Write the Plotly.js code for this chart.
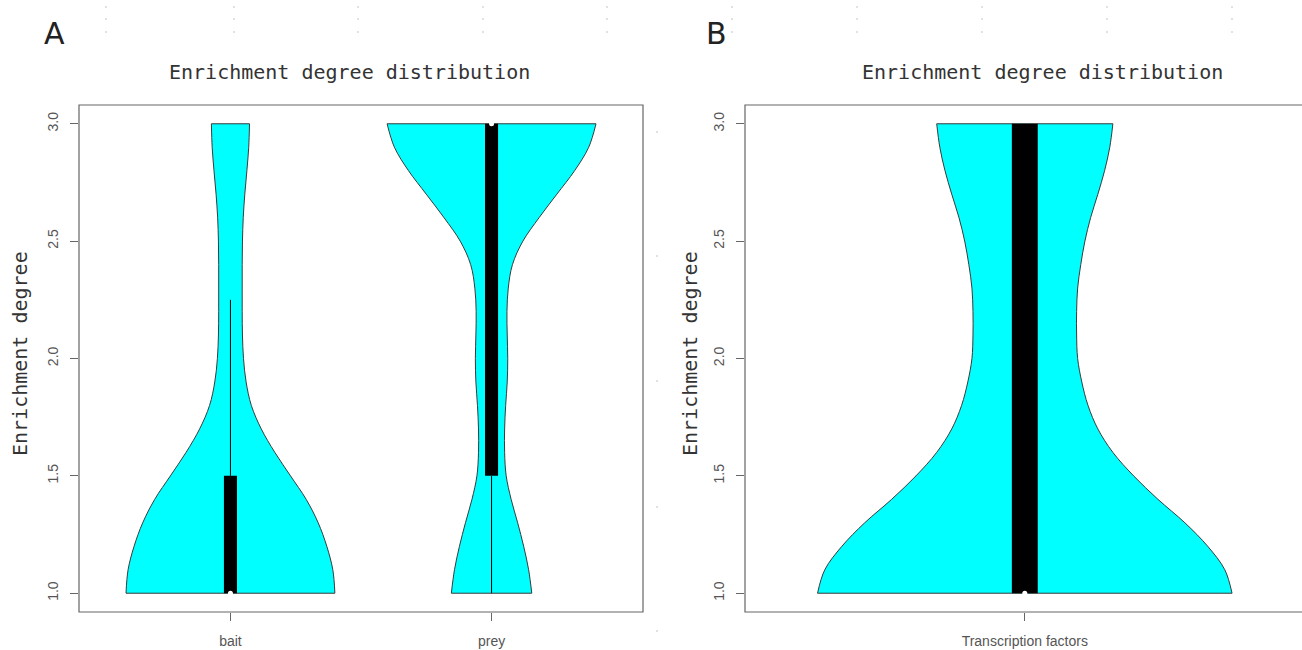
<!DOCTYPE html>
<html><head><meta charset="utf-8">
<script src="https://cdn.plot.ly/plotly-3.0.1.min.js"></script>
<style>html,body{margin:0;padding:0;background:#fff;}#chart{width:1302px;height:650px;}</style>
</head><body><div id="chart"></div>
<script>
// ---- data ----
const levels = [1.0,1.1,1.2,1.3,1.4,1.5,1.6,1.7,1.8,1.9,2.0,2.1,2.2,2.3,2.4,2.5,2.6,2.7,2.8,2.9,3.0];
const groupsA = ['bait','prey'];
const groupsB = ['Transcription factors'];
// violin half-widths (x units) at each level
const baitHalfWidth = [0.400,0.392,0.369,0.336,0.290,0.230,0.170,0.118,0.080,0.060,0.050,0.046,0.045,0.045,0.045,0.046,0.049,0.055,0.063,0.070,0.073];
const preyHalfWidth = [0.154,0.142,0.123,0.100,0.075,0.056,0.050,0.050,0.054,0.060,0.062,0.060,0.059,0.064,0.080,0.120,0.182,0.250,0.318,0.372,0.400];
const tfHalfWidth   = [0.400,0.386,0.353,0.309,0.257,0.210,0.170,0.141,0.122,0.110,0.102,0.100,0.100,0.102,0.108,0.116,0.127,0.141,0.154,0.164,0.170];
// box statistics
const q1A = [1.0, 1.5];
const medianA = [1.0, 3.0];
const q3A = [1.5, 3.0];
const whiskerLowA = [1.0, 1.0];
const whiskerHighA = [2.25, 3.0];
const q1B = [1.0];
const medianB = [1.0];
const q3B = [3.0];
const whiskerLowB = [1.0];
const whiskerHighB = [3.0];
const yTickVals = [1.0,1.5,2.0,2.5,3.0];
const yTickText = ['1.0','1.5','2.0','2.5','3.0'];

// ---- styles ----
const W = 1302, H = 650;
const CYAN = '#00FFFF';
const OUTLINE = '#3a3a3a';
const BOXHALF = 0.025;

function violin(center, half, xa, ya) {
  const left = {x: levels.map((y,i)=>center-half[i]), y: levels, type:'scatter', mode:'lines',
    xaxis:xa, yaxis:ya, line:{color:OUTLINE, width:1, shape:'spline', smoothing:1}, hoverinfo:'skip'};
  const right = {x: levels.map((y,i)=>center+half[i]), y: levels, type:'scatter', mode:'lines',
    xaxis:xa, yaxis:ya, fill:'tonextx', fillcolor:CYAN,
    line:{color:OUTLINE, width:1, shape:'spline', smoothing:1}, hoverinfo:'skip'};
  const n = levels.length-1;
  const top = {x:[center-half[n], center+half[n]], y:[levels[n], levels[n]], type:'scatter', mode:'lines',
    xaxis:xa, yaxis:ya, line:{color:OUTLINE, width:1}, hoverinfo:'skip'};
  const bot = {x:[center-half[0], center+half[0]], y:[levels[0], levels[0]], type:'scatter', mode:'lines',
    xaxis:xa, yaxis:ya, line:{color:OUTLINE, width:1}, hoverinfo:'skip'};
  return [left, right, top, bot];
}
function boxParts(center, q1, med, q3, wlo, whi, xa, ya) {
  return [
    {x:[center,center,null,center,center], y:[wlo,q1,null,q3,whi], type:'scatter', mode:'lines',
     xaxis:xa, yaxis:ya, line:{color:'#000', width:1}, hoverinfo:'skip'},
    {x:[center-BOXHALF,center+BOXHALF,center+BOXHALF,center-BOXHALF,center-BOXHALF],
     y:[q1,q1,q3,q3,q1], type:'scatter', mode:'lines', fill:'toself', fillcolor:'#000',
     xaxis:xa, yaxis:ya, line:{color:'#000', width:0}, hoverinfo:'skip'},
    {x:[center], y:[med], type:'scatter', mode:'markers', xaxis:xa, yaxis:ya,
     marker:{color:'#fff', size:5, line:{width:0}}, hoverinfo:'skip'}
  ];
}

let traces = [];
traces = traces.concat(violin(1, baitHalfWidth, 'x', 'y'));
traces = traces.concat(violin(2, preyHalfWidth, 'x', 'y'));
traces = traces.concat(violin(1, tfHalfWidth, 'x2', 'y2'));
groupsA.forEach((g,i)=>{ traces = traces.concat(boxParts(i+1, q1A[i], medianA[i], q3A[i], whiskerLowA[i], whiskerHighA[i], 'x', 'y')); });
groupsB.forEach((g,i)=>{ traces = traces.concat(boxParts(i+1, q1B[i], medianB[i], q3B[i], whiskerLowB[i], whiskerHighB[i], 'x2', 'y2')); });

// layout geometry (pixels)
const A = {l:79, r:643, t:105, b:612};
const B = {l:745, r:1305, t:105, b:612};
const px = v => v/W, py = v => 1 - v/H;

const tickFont = {family:'Liberation Sans, Arial, sans-serif', size:14, color:'#555'};
const xBase = {ticks:'outside', ticklen:8, tickcolor:'#666', tickwidth:1, showline:false, zeroline:false,
  showgrid:false, tickfont:tickFont, ticklabelstandoff:8, fixedrange:true};
const yBase = Object.assign({}, xBase, {tickvals:yTickVals, ticktext:yTickText, tickangle:-90, ticklabelstandoff:6});

const titleFont = {family:'DejaVu Sans Mono, monospace', size:20, color:'#333'};
const letterFont = {family:'DejaVu Sans, sans-serif', size:30, color:'#222'};

// faint artifact dots
const dotCols = [106,234,358,483,607,732,857,982,1107,1232];
const dotRows = [7,19,32];
const sideDotRows = [132,256,381,507,631];
const shapes = [];
dotCols.forEach(cx=>dotRows.forEach(cy=>shapes.push({type:'circle', xref:'paper', yref:'paper',
  x0:px(cx-0.8), x1:px(cx+0.8), y0:py(cy+0.8), y1:py(cy-0.8), fillcolor:'#bbb', line:{width:0}})));
sideDotRows.forEach(cy=>shapes.push({type:'circle', xref:'paper', yref:'paper',
  x0:px(657-0.8), x1:px(657+0.8), y0:py(cy+0.8), y1:py(cy-0.8), fillcolor:'#bbb', line:{width:0}}));
// plot frames
shapes.push({type:'rect', xref:'paper', yref:'paper', x0:px(A.l), x1:px(A.r), y0:py(A.b), y1:py(A.t),
  line:{color:'#666', width:1.2}, fillcolor:'rgba(0,0,0,0)'});
shapes.push({type:'rect', xref:'paper', yref:'paper', x0:px(B.l), x1:px(B.r+20), y0:py(B.b), y1:py(B.t),
  line:{color:'#666', width:1.2}, fillcolor:'rgba(0,0,0,0)'});

const layout = {
  width:W, height:H, margin:{l:0,r:0,t:0,b:0}, paper_bgcolor:'#fff', plot_bgcolor:'rgba(0,0,0,0)',
  showlegend:false,
  xaxis: Object.assign({}, xBase, {domain:[px(A.l), px(A.r)], range:[0.42, 2.58], tickvals:[1,2], ticktext:groupsA}),
  yaxis: Object.assign({}, yBase, {domain:[py(A.b), py(A.t)], range:[0.92, 3.08]}),
  xaxis2: Object.assign({}, xBase, {domain:[px(B.l), 1], range:[0.46, 1.535], tickvals:[1], ticktext:groupsB, anchor:'y2'}),
  yaxis2: Object.assign({}, yBase, {domain:[py(B.b), py(B.t)], range:[0.92, 3.08], anchor:'x2'}),
  shapes: shapes,
  annotations: [
    {text:'A', xref:'paper', yref:'paper', x:px(54), y:py(34), showarrow:false, font:letterFont, xanchor:'center', yanchor:'middle'},
    {text:'B', xref:'paper', yref:'paper', x:px(716), y:py(34), showarrow:false, font:letterFont, xanchor:'center', yanchor:'middle'},
    {text:'Enrichment degree distribution', xref:'paper', yref:'paper', x:px(349), y:py(72), showarrow:false, font:titleFont, xanchor:'center', yanchor:'middle'},
    {text:'Enrichment degree distribution', xref:'paper', yref:'paper', x:px(1042), y:py(72), showarrow:false, font:titleFont, xanchor:'center', yanchor:'middle'},
    {text:'Enrichment degree', xref:'paper', yref:'paper', x:px(20), y:py(354), showarrow:false, font:titleFont, textangle:-90, xanchor:'center', yanchor:'middle'},
    {text:'Enrichment degree', xref:'paper', yref:'paper', x:px(690), y:py(354), showarrow:false, font:titleFont, textangle:-90, xanchor:'center', yanchor:'middle'}
  ]
};
Plotly.newPlot('chart', traces, layout, {staticPlot:true, displayModeBar:false});
</script>
</body></html>
